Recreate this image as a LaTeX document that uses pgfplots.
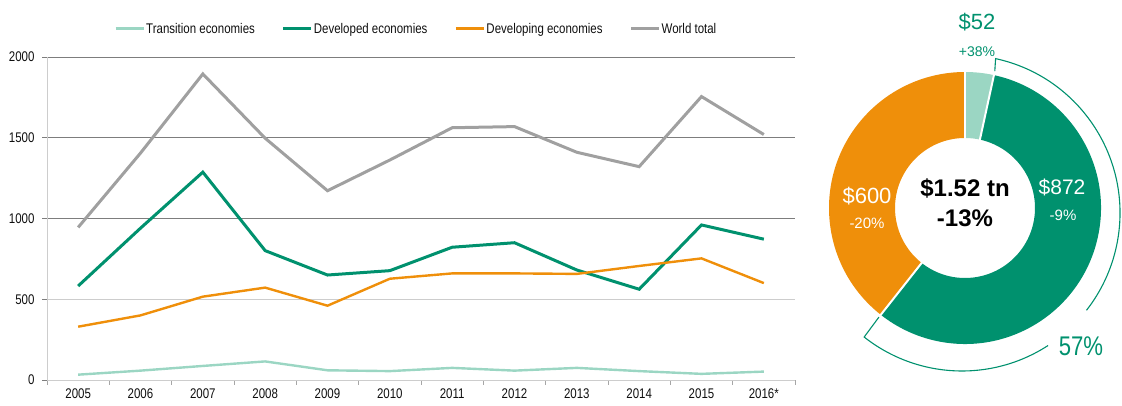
\documentclass[border=0pt]{standalone}
\usepackage{fontspec}
\setmainfont{Liberation Sans}
\newfontfamily\cond{Liberation Sans}[FakeStretch=0.82]
\usepackage{pgfplots}
\usepackage{pgfplotstable}
\pgfplotsset{compat=1.18}
\definecolor{cTrans}{RGB}{155,214,195}
\definecolor{cDev}{RGB}{0,145,110}
\definecolor{cDevg}{RGB}{239,143,10}
\definecolor{cWorld}{RGB}{160,160,160}
\definecolor{cGrid}{RGB}{125,125,125}
\definecolor{cLight}{RGB}{205,205,205}
\definecolor{cTxt}{RGB}{15,15,15}

\pgfplotstableread{
x trans dev devg world
0  33  582 330  945
1  58  940 400 1405
2  87 1287 516 1895
3 115  801 572 1497
4  60  650 460 1172
5  55  677 627 1362
6  75  822 660 1562
7  58  850 660 1569
8  75  681 657 1410
9  55  562 706 1321
10 38  960 753 1755
11 52  872 600 1520
}\fdidata

% 2016 shares (US$ billion)
\def\vT{52}
\def\vD{872}
\def\vG{600}

\newcommand{\fs}[1]{\fontsize{#1pt}{#1pt}\selectfont}

\begin{document}
\begin{tikzpicture}
\useasboundingbox (0,0) rectangle (1122pt,406pt);
\begin{axis}[
  at={(47pt,26pt)}, anchor=south west,
  width=748pt, height=323pt, scale only axis,
  xmin=-0.5, xmax=11.5, ymin=0, ymax=2000,
  axis x line*=bottom, axis y line*=left,
  x axis line style={-, draw=cLight, line width=0.8pt},
  y axis line style={-, draw=cLight, line width=0.8pt},
  xtick={0,...,11},
  xticklabels={2005,2006,2007,2008,2009,2010,2011,2012,2013,2014,2015,2016*},
  major x tick style={draw=none},
  minor xtick={-0.5,0.5,...,11.5},
  minor x tick style={draw=gray!70, line width=0.7pt},
  minor tick length=5pt,
  major tick length=5pt,
  xtick align=outside, ytick align=outside,
  ytick={1000,1500,2000},
  extra y ticks={0,500},
  extra y tick style={grid style={draw=cLight, line width=0.8pt}, tick style={draw=cLight, line width=0.8pt}},
  ymajorgrids,
  grid style={draw=cGrid, line width=0.8pt},
  y tick style={draw=cGrid, line width=0.8pt},
  ticklabel style={font=\cond\fs{14}, text=cTxt},
  yticklabel style={xshift=-4pt},
  /pgf/number format/assume math mode=true,
  /pgf/number format/1000 sep={},
  legend columns=4,
  legend cell align=left,
  legend style={at={(axis description cs:0.493,1.087)}, anchor=center, draw=none, fill=none,
    font=\cond\fs{14}, text=cTxt,
    /tikz/every even column/.append style={column sep=26pt},
    nodes={inner sep=1pt}},
  legend image code/.code={\draw[#1, line width=3pt] (0pt,0pt) -- (28pt,0pt);},
]
\addplot[cTrans, line width=2.4pt] table[x=x, y=trans] {\fdidata};
\addlegendentry{Transition economies}
\addplot[cDev, line width=3pt] table[x=x, y=dev] {\fdidata};
\addlegendentry{Developed economies}
\addplot[cDevg, line width=2.4pt] table[x=x, y=devg] {\fdidata};
\addlegendentry{Developing economies}
\addplot[cWorld, line width=3pt] table[x=x, y=world] {\fdidata};
\addlegendentry{World total}
\end{axis}

\pgfmathsetmacro\tot{\vT+\vD+\vG}
\pgfmathsetmacro\aT{90-\vT/\tot*360}
\pgfmathsetmacro\aD{\aT-\vD/\tot*360}
\pgfmathsetmacro\aG{\aD-\vG/\tot*360}
\def\ro{136}
\def\ri{70}
% bracket circle: centre offset (bx,by), radius rb
\def\bx{-3}
\def\by{-5}
\def\rb{158}
\begin{axis}[at={(965pt,198pt)}, anchor=origin, hide axis, x=1pt, y=1pt,
  xmin=-160, xmax=160, ymin=-175, ymax=200, clip=false]
\addplot[draw=none] coordinates {(0,0)};
% slices
\fill[cTrans] (axis cs:0,\ro) arc[start angle=90, end angle=\aT, radius=\ro pt]
  -- (axis cs:{\ri*cos(\aT)},{\ri*sin(\aT)}) arc[start angle=\aT, end angle=90, radius=\ri pt] -- cycle;
\fill[cDev] (axis cs:{\ro*cos(\aT)},{\ro*sin(\aT)}) arc[start angle=\aT, end angle=\aD, radius=\ro pt]
  -- (axis cs:{\ri*cos(\aD)},{\ri*sin(\aD)}) arc[start angle=\aD, end angle=\aT, radius=\ri pt] -- cycle;
\fill[cDevg] (axis cs:{\ro*cos(\aD)},{\ro*sin(\aD)}) arc[start angle=\aD, end angle=\aG, radius=\ro pt]
  -- (axis cs:{\ri*cos(\aG)},{\ri*sin(\aG)}) arc[start angle=\aG, end angle=\aD, radius=\ri pt] -- cycle;
% separators
\draw[white, line width=2pt] (axis cs:{(\ri-2)*cos(\aT)},{(\ri-2)*sin(\aT)}) -- (axis cs:{(\ro+2)*cos(\aT)},{(\ro+2)*sin(\aT)});
\draw[white, line width=2pt] (axis cs:{(\ri-2)*cos(\aD)},{(\ri-2)*sin(\aD)}) -- (axis cs:{(\ro+2)*cos(\aD)},{(\ro+2)*sin(\aD)});
\draw[white, line width=1.2pt] (axis cs:0,\ri-2) -- (axis cs:0,\ro+2);
% bracket around developed share
\draw[cDev, line width=1.1pt] (axis cs:{140*cos(\aT)},{140*sin(\aT)}) -- (axis cs:{\bx+\rb*cos(\aT)},{\by+\rb*sin(\aT)})
  arc[start angle=\aT, end angle=-38, radius=\rb pt];
\draw[cDev, line width=1.1pt] (axis cs:{\bx+\rb*cos(-57)},{\by+\rb*sin(-57)})
  arc[start angle=-57, end angle=\aD, radius=\rb pt] -- (axis cs:{139*cos(\aD)},{139*sin(\aD)});
% labels
\node[text=cDev, font=\fs{22}] at (axis cs:12,186) {\$52};
\node[text=cDev, font=\fs{14}] at (axis cs:12,156) {+38\%};
\node[text=white, font=\fs{22}] at (axis cs:-98,12) {\$600};
\node[text=white, font=\fs{15}] at (axis cs:-98,-15) {-20\%};
\node[text=white, font=\fs{21}] at (axis cs:97,21) {\$872};
\node[text=white, font=\fs{15}] at (axis cs:98,-7) {-9\%};
\node[text=black, font=\bfseries\fs{24}] at (axis cs:0,20) {\$1.52 tn};
\node[text=black, font=\bfseries\fs{24}] at (axis cs:0,-10) {-13\%};
\node[text=cDev, font=\cond\fs{27}] at (axis cs:116,-138) {57\%};
\end{axis}
\end{tikzpicture}
\end{document}
